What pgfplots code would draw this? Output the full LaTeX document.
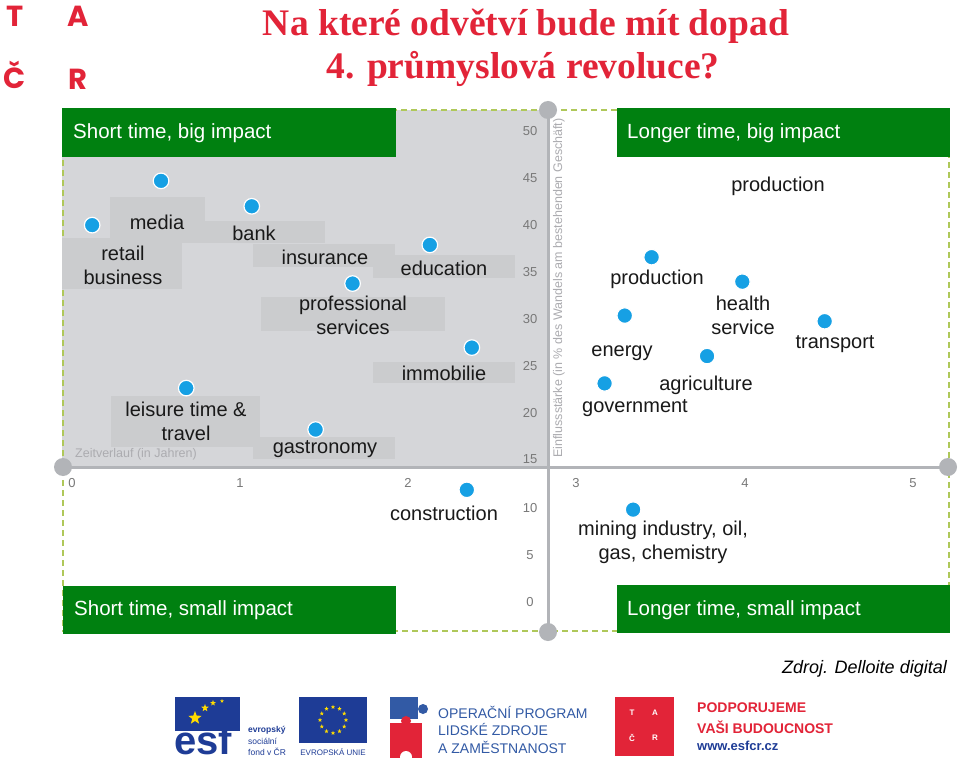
\documentclass[border=0pt]{standalone}
\usepackage{pgfplots}
\pgfplotsset{compat=1.18}
\usepackage{fontspec}
\setmainfont{Liberation Sans}
\newfontfamily\titleserif{Liberation Serif}
\newfontfamily\poppins{Poppins}
\usetikzlibrary{shapes.geometric}
\definecolor{tred}{RGB}{226,36,56}
\definecolor{qgreen}{RGB}{0,128,16}
\definecolor{bggray}{RGB}{213,214,217}
\definecolor{boxgray}{RGB}{203,204,206}
\definecolor{axgray}{RGB}{178,180,184}
\definecolor{dashgreen}{RGB}{175,200,90}
\definecolor{dotblue}{RGB}{22,160,228}
\definecolor{tickgray}{RGB}{120,120,120}
\definecolor{lightgray}{RGB}{172,172,176}
\definecolor{esfblue}{RGB}{30,60,150}
\definecolor{opblue}{RGB}{50,90,165}
\definecolor{eustar}{RGB}{255,220,0}
\newcommand{\lab}[3]{\node[font=\fontsize{20}{24}\selectfont, align=center, inner sep=0pt, text=black!90] at (#1,#2) {#3};}
\begin{document}
\begin{tikzpicture}
\useasboundingbox (0,0) rectangle (960pt,764pt);
\fill[white] (0,0) rectangle (960pt,764pt);
\begin{scope}[x=1pt,y=-1pt,yshift=764pt]
% TACR letters
\begin{scope}[every node/.style={text=tred, font=\fontsize{29}{30}\selectfont\poppins\bfseries, inner sep=0pt, anchor=base}]
\node at (15,27) {T};
\node at (78,27) {A};
\node at (15,89) {Č};
\node at (78,90) {R};
\end{scope}
% title
\node[text=tred, font=\fontsize{37.5}{43}\selectfont\titleserif\bfseries, anchor=base, inner sep=0pt] at (526,36) {Na které odvětví bude mít dopad};
\node[text=tred, font=\fontsize{37.5}{43}\selectfont\titleserif\bfseries, anchor=base, inner sep=0pt] at (523,79) {4. průmyslová revoluce?};
% quadrant background
\fill[bggray] (62,110) rectangle (548,467);
\draw[dashgreen, line width=1.2pt, dash pattern=on 6pt off 4pt] (63,110) rectangle (949,631);
% label boxes
\fill[boxgray] (110,197) rectangle (205,243);
\fill[boxgray] (62,238) rectangle (182,289);
\fill[boxgray] (205,221) rectangle (325,243);
\fill[boxgray] (253,244) rectangle (395,267);
\fill[boxgray] (373,255) rectangle (515,278);
\fill[boxgray] (261,297) rectangle (445,331);
\fill[boxgray] (373,362) rectangle (515,383);
\fill[boxgray] (111,396) rectangle (260,447);
\fill[boxgray] (253,437) rectangle (395,459);
% axis title texts
\node[text=lightgray, font=\fontsize{12.5}{14}\selectfont, anchor=west, inner sep=0pt] at (75,454) {Zeitverlauf (in Jahren)};
\node[text=lightgray, font=\fontsize{12.5}{14}\selectfont, rotate=90, inner sep=0pt] at (559,288) {Einflussstärke (in \% des Wandels am bestehenden Geschäft)};
% axis lines
\draw[axgray, line width=3pt] (548,110) -- (548,632);
\draw[axgray, line width=3pt] (62,467) -- (949,467);
\fill[axgray] (548,110) circle[radius=9];
\fill[axgray] (548,632) circle[radius=9];
\fill[axgray] (63,467) circle[radius=9];
\fill[axgray] (948,467) circle[radius=9];
% tick labels
\begin{scope}[every node/.style={text=tickgray, font=\fontsize{13}{14}\selectfont, inner sep=0pt}]
\node at (72,483) {0};
\node at (240,483) {1};
\node at (408,483) {2};
\node at (576,483) {3};
\node at (745,483) {4};
\node at (913,483) {5};
\node at (530,131) {50};
\node at (530,178) {45};
\node at (530,225) {40};
\node at (530,272) {35};
\node at (530,319) {30};
\node at (530,366) {25};
\node at (530,413) {20};
\node at (530,459) {15};
\node at (530,508) {10};
\node at (530,555) {5};
\node at (530,602) {0};
\end{scope}
% green quadrant headers
\fill[qgreen] (62,108) rectangle (396,157);
\fill[qgreen] (617,108) rectangle (950,157);
\fill[qgreen] (63,586) rectangle (396,634);
\fill[qgreen] (617,585) rectangle (950,633);
\begin{scope}[every node/.style={text=white, font=\fontsize{20.5}{24}\selectfont, anchor=west, inner sep=0pt}]
\node at (73,133) {Short time, big impact};
\node at (627,133) {Longer time, big impact};
\node at (74,610) {Short time, small impact};
\node at (627,610) {Longer time, small impact};
\end{scope}
% source
\node[font=\fontsize{18}{20}\selectfont\itshape, anchor=east, inner sep=0pt] at (947,669) {Zdroj. Delloite digital};
% logos: ESF
\fill[esfblue] (175,697) rectangle (240,731);
\node[star, star points=5, star point ratio=2.4, fill=eustar, inner sep=0pt, minimum size=14pt] at (195,718) {};
\node[star, star points=5, star point ratio=2.4, fill=eustar, inner sep=0pt, minimum size=8pt] at (205,708) {};
\node[star, star points=5, star point ratio=2.4, fill=eustar, inner sep=0pt, minimum size=6pt] at (213,703) {};
\node[star, star points=5, star point ratio=2.4, fill=eustar, inner sep=0pt, minimum size=4pt] at (222,701) {};
\node[text=esfblue, font=\fontsize{40}{40}\selectfont\bfseries, anchor=base west, inner sep=0pt] at (174,754) {esf};
\begin{scope}[every node/.style={text=esfblue, font=\fontsize{8.5}{9}\selectfont, anchor=west, inner sep=0pt}]
\node at (248,730) {\bfseries evropský};
\node at (248,741) {sociální};
\node at (248,752) {fond v ČR};
\end{scope}
% EU flag
\fill[esfblue] (299,697) rectangle (367,743);
\foreach \a in {0,30,...,330} {
  \node[star, star points=5, star point ratio=2.4, fill=eustar, inner sep=0pt, minimum size=4.5pt] at ({333+13*cos(\a)},{720+13*sin(\a)}) {};
}
\node[text=esfblue, font=\fontsize{8}{9}\selectfont, inner sep=0pt] at (333,752) {EVROPSKÁ UNIE};
% OP puzzle
\fill[opblue] (390,697) rectangle (418,719);
\fill[opblue] (423,709) circle[radius=5];
\fill[tred] (390,723) rectangle (422,758);
\fill[tred] (406,721) circle[radius=5];
\fill[white] (406,757) circle[radius=6];
\begin{scope}[every node/.style={text=opblue, font=\fontsize{14}{16}\selectfont, anchor=west, inner sep=0pt}]
\node at (438,712) {OPERAČNÍ PROGRAM};
\node at (438,729) {LIDSKÉ ZDROJE};
\node at (438,747) {A ZAMĚSTNANOST};
\end{scope}
% TACR logo
\fill[tred] (615,697) rectangle (674,756);
\begin{scope}[every node/.style={text=white, font=\fontsize{8}{9}\selectfont\bfseries, inner sep=0pt}]
\node at (632,713) {T};
\node at (655,713) {A};
\node at (632,738) {Č};
\node at (655,738) {R};
\end{scope}
\node[text=tred, font=\fontsize{14}{16}\selectfont\bfseries, anchor=west, inner sep=0pt] at (697,708) {PODPORUJEME};
\node[text=tred, font=\fontsize{14}{16}\selectfont\bfseries, anchor=west, inner sep=0pt] at (697,727) {VAŠI BUDOUCNOST};
\node[text=esfblue, font=\fontsize{13}{15}\selectfont\bfseries, anchor=west, inner sep=0pt] at (697,746) {www.esfcr.cz};
\end{scope}
\begin{axis}[at={(0pt,0pt)}, anchor=south west, scale only axis,
  width=960pt, height=764pt,
  xmin=-0.428571, xmax=5.285714, ymin=-17.3036, ymax=63.8004,
  hide axis, clip=false]
\addplot[only marks, mark=*, mark size=7.8pt,
  mark options={fill=dotblue, draw=white, line width=1.2pt}] table {
x y
0.12 39.9
0.53 44.6
1.07 41.9
1.67 33.7
2.13 37.8
2.38 26.9
0.68 22.6
1.45 18.2
2.35 11.8
3.34 9.7
3.45 36.5
3.99 33.9
3.29 30.3
3.78 26.0
3.17 23.1
4.48 29.7
};
\end{axis}
\begin{scope}[x=1pt,y=-1pt,yshift=764pt]
\lab{157}{222}{media}
\lab{123}{265}{retail\\business}
\lab{254}{233}{bank}
\lab{325}{257}{insurance}
\lab{444}{268}{education}
\lab{353}{315}{professional\\services}
\lab{444}{373}{immobilie}
\lab{186}{421}{leisure time \&\\travel}
\lab{325}{449}{gastronomy}
\lab{778}{186}{production}
\lab{657}{279}{production}
\lab{743}{315}{health\\service}
\lab{835}{344}{transport}
\lab{622}{353}{energy}
\lab{706}{385}{agriculture}
\lab{635}{408}{government}
\lab{444}{513}{construction}
\lab{663}{542}{mining industry, oil,\\gas, chemistry}
\end{scope}
\end{tikzpicture}
\end{document}
